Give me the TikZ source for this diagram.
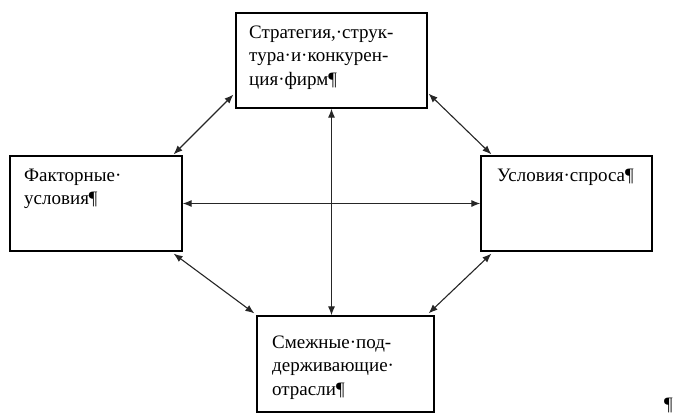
\documentclass[tikz,border=0pt]{standalone}
\usepackage{fontspec}
\setmainfont{Liberation Serif}
\usetikzlibrary{arrows.meta,calc}
\tikzset{
  box/.style={draw=black,line width=1.2bp,inner sep=0pt,fill=white},
  lbl/.style={anchor=base west,inner sep=0pt,align=left,font=\fontsize{19bp}{23.5bp}\selectfont},
  link/.style={draw=black!85,line width=1.1bp,{Latex[length=9bp,width=7bp]}-{Latex[length=9bp,width=7bp]}}
}
\begin{document}
\begin{tikzpicture}[x=1bp,y=-1bp]
\useasboundingbox (0,0) rectangle (691,415);
\node[box,minimum width=191bp,minimum height=95bp] (top) at (331.5,60.5) {};
\node[box,minimum width=172bp,minimum height=95bp] (left) at (96,203.5) {};
\node[box,minimum width=171bp,minimum height=95bp] (right) at (566.5,203.5) {};
\node[box,minimum width=177bp,minimum height=96bp] (bottom) at (345.5,364) {};
\node[lbl] (ttop) at (249,85) {Стратегия,·струк-\\тура·и·конкурен-\\ция·фирм¶};
\node[lbl] (tleft) at (24,204.5) {Факторные·\\условия¶};
\node[lbl] (tright) at (497,181) {Условия·спроса¶};
\node[lbl] (tbottom) at (272,395) {Смежные·под-\\держивающие·\\отрасли¶};
\node[lbl] (stray) at (664,410) {¶};
\draw[link] ($(left.north east)+(-9,-1)$) -- ($(top.south west)+(-2,-14)$);
\draw[link] ($(top.south east)+(1,-15)$) -- ($(right.north west)+(11,-1)$);
\draw[link] ($(left.south east)+(-9,2)$) -- ($(bottom.north west)+(-2,-2)$);
\draw[link] ($(right.south west)+(11,2)$) -- ($(bottom.north east)+(-6,-2)$);
\draw[link] (left.east) -- (right.west);
\draw[link] (top.south) -- (top.south |- bottom.north);
\end{tikzpicture}
\end{document}
